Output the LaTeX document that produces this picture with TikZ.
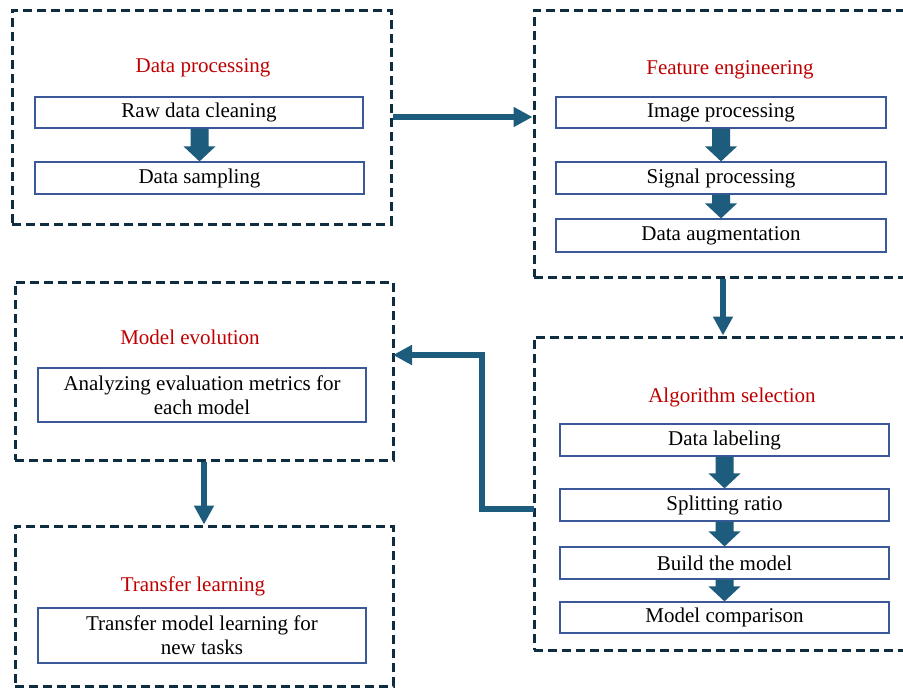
\documentclass[tikz,border=0pt]{standalone}
\usepackage{fontspec}
\setmainfont{Liberation Serif}
\usetikzlibrary{arrows.meta,calc}
\definecolor{dashc}{HTML}{0F2D40}
\definecolor{arrc}{HTML}{1D5C7C}
\definecolor{inc}{HTML}{3B5998}
\definecolor{titc}{HTML}{C00000}
\newcommand\blockarr[2]{\fill[blk] ($(#1.south -| #2.north)+(-9,0)$) -- ($(#2.north)+(-9,-15)$) -- ($(#2.north)+(-16,-15)$) -- (#2.north) -- ($(#2.north)+(16,-15)$) -- ($(#2.north)+(9,-15)$) -- ($(#1.south -| #2.north)+(9,0)$) -- cycle;}
\begin{document}
\begin{tikzpicture}[x=1pt,y=-1pt,
  outer/.style={draw=dashc, line width=3pt, dash pattern=on 9pt off 5pt, rectangle, inner sep=0pt},
  inbox/.style={draw=inc, line width=1.2pt, fill=white, inner sep=0pt, font=\fontsize{21}{24}\selectfont, align=center, text=black, rectangle},
  ttl/.style={text=titc, font=\fontsize{21}{24}\selectfont, inner sep=0pt},
  conn/.style={draw=arrc, line width=6pt, -{Triangle[length=19pt,width=19pt]}},
  blk/.style={fill=arrc}]
\useasboundingbox (0,0) rectangle (903,688);
\fill[white] (0,0) rectangle (903,688);

% outer dashed boxes
\node[outer, minimum width=379pt, minimum height=214pt] (dp) at (201.5,117) {};
\node[outer, minimum width=381pt, minimum height=267pt] (fe) at (724.5,143.5) {};
\node[outer, minimum width=381pt, minimum height=313pt] (al) at (724.5,493.5) {};
\node[outer, minimum width=378pt, minimum height=178pt] (me) at (204,371) {};
\node[outer, minimum width=378pt, minimum height=160pt] (tl) at (204,606) {};

% titles
\node[ttl] (dpt) at (203,68) {Data processing};
\node[ttl] (fet) at (730,70) {Feature engineering};
\node[ttl] (alt) at (732,397) {Algorithm selection};
\node[ttl] (met) at (190,337) {Model evolution};
\node[ttl] (tlt) at (193,586) {Transfer learning};

% inner boxes
\node[inbox, minimum width=328pt, minimum height=31pt] (raw) at (199,112.5) {Raw data cleaning};
\node[inbox, minimum width=329pt, minimum height=32pt] (samp) at (199.5,178) {Data sampling};

\node[inbox, minimum width=330pt, minimum height=31pt] (img) at (721,112.5) {Image processing};
\node[inbox, minimum width=330pt, minimum height=32pt] (sig) at (721,178) {Signal processing};
\node[inbox, minimum width=330pt, minimum height=33pt] (aug) at (721,235.5) {Data augmentation};

\node[inbox, minimum width=329pt, minimum height=32pt] (lab) at (724.5,440) {Data labeling};
\node[inbox, minimum width=329pt, minimum height=32pt] (spl) at (724.5,505) {Splitting ratio};
\node[inbox, minimum width=329pt, minimum height=32pt] (bld) at (724.5,563) {Build the model};
\node[inbox, minimum width=329pt, minimum height=31pt] (cmp) at (724.5,617.5) {Model comparison};

\node[inbox, minimum width=328pt, minimum height=54pt] (ana) at (202,395) {Analyzing evaluation metrics for\\each model};
\node[inbox, minimum width=328pt, minimum height=55pt] (trm) at (202,635.5) {Transfer model learning for\\new tasks};

% block arrows inside boxes
\blockarr{raw}{samp}
\blockarr{img}{sig}
\blockarr{sig}{aug}
\blockarr{lab}{spl}
\blockarr{spl}{bld}
\blockarr{bld}{cmp}

% connectors between stages
\draw[conn] (dp.east) -- (fe.west |- dp.east);
\draw[conn] (fe.south -| 723,0) -- (al.north -| 723,0);
\coordinate (es) at (534,509);
\coordinate (ee) at (393,355);
\draw[conn] (es) -- ++(-52,0) |- (ee);
\draw[conn] (me.south) -- (tl.north);
\end{tikzpicture}
\end{document}
